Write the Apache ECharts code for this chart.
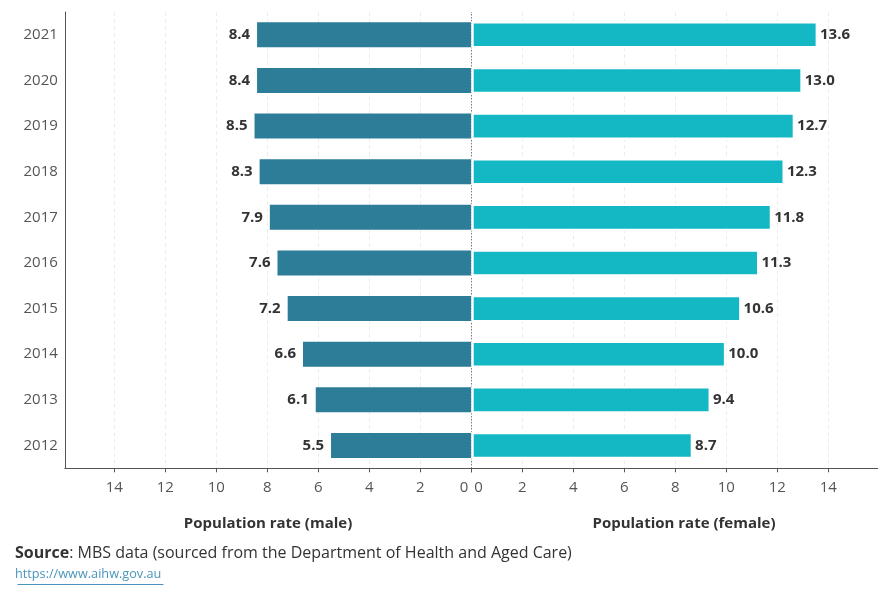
<!DOCTYPE html>
<html>
<head>
<meta charset="utf-8">
<script src="https://cdn.jsdelivr.net/npm/echarts@6/dist/echarts.min.js"></script>
<style>
  html, body { margin: 0; padding: 0; background: #fff; }
  #main { width: 890px; height: 600px; }
</style>
</head>
<body>
<div id="main"></div>
<script>
var years = ["2012", "2013", "2014", "2015", "2016", "2017", "2018", "2019", "2020", "2021"];
var maleRate = [5.5, 6.1, 6.6, 7.2, 7.6, 7.9, 8.3, 8.5, 8.4, 8.4];
var femaleRate = [8.7, 9.4, 10.0, 10.6, 11.3, 11.8, 12.3, 12.7, 13.0, 13.6];
var tickValues = [0, 2, 4, 6, 8, 10, 12, 14];

var font = "Open Sans";
var chart = echarts.init(document.getElementById("main"));

function valueAxis(gridIndex, inverse, name, namePad, align, zeroPad) {
  return {
    type: "value",
    gridIndex: gridIndex,
    inverse: inverse,
    min: 0,
    max: 15.94,
    name: name,
    nameLocation: "middle",
    nameGap: 48,
    nameTextStyle: { fontFamily: font, fontSize: 15, fontWeight: "bold", color: "#333", padding: namePad },
    axisLine: { show: true, lineStyle: { color: "#555", width: 1 } },
    axisTick: { show: true, length: 4, lineStyle: { color: "#555" }, customValues: tickValues },
    axisLabel: {
      fontFamily: font, fontSize: 15, color: "#555", margin: 12,
      customValues: tickValues, alignMinLabel: align,
      formatter: function (v) { return v === 0 ? "{z|0}" : String(v); },
      rich: { z: { fontFamily: font, fontSize: 15, color: "#555", padding: zeroPad } }
    },
    splitLine: { show: true, lineStyle: { color: "#ececec", type: [4, 3], width: 1 } }
  };
}

var option = {
  animation: false,
  grid: [
    { left: 64.8, width: 406.5, top: 12, height: 456.3 },
    { left: 471.3, width: 406.4, top: 12, height: 456.3 }
  ],
  xAxis: [
    valueAxis(0, true, "Population rate (male)", [0, 0, 0, 0], "right", [0, 3, 0, 0]),
    valueAxis(1, false, "Population rate (female)", [0, 0, 0, 19], "left", [0, 0, 0, 3])
  ],
  yAxis: [
    {
      type: "category", gridIndex: 0, data: years,
      axisLine: { show: true, onZero: false, lineStyle: { color: "#555", width: 1 } },
      axisTick: { show: false },
      axisLabel: { fontFamily: font, fontSize: 15, color: "#555", margin: 7 }
    },
    {
      type: "category", gridIndex: 1, data: years,
      axisLine: { show: false },
      axisTick: { show: false },
      axisLabel: { show: false }
    }
  ],
  series: [
    {
      // centre reference line, drawn under the bars
      type: "line", xAxisIndex: 1, yAxisIndex: 1, data: [], silent: true, z: 0,
      markLine: {
        z: 0, silent: true, symbol: ["none", "none"],
        label: { show: false },
        lineStyle: { color: "#444", width: 1, type: [1, 2] },
        data: [{ xAxis: 0 }]
      }
    },
    {
      name: "Male", type: "bar", xAxisIndex: 0, yAxisIndex: 0, z: 5,
      data: maleRate, barWidth: 25,
      itemStyle: { color: "#2d7d99" },
      label: {
        show: true, position: "left", distance: 7,
        fontFamily: font, fontSize: 15, fontWeight: "bold", color: "#333",
        formatter: function (p) { return p.value.toFixed(1); }
      }
    },
    {
      name: "Female", type: "bar", xAxisIndex: 1, yAxisIndex: 1, z: 6,
      data: femaleRate, barWidth: 27.4,
      itemStyle: { color: "#14b8c5", borderColor: "#fff", borderWidth: 2.4 },
      label: {
        show: true, position: "right", distance: 2,
        fontFamily: font, fontSize: 15, fontWeight: "bold", color: "#333",
        formatter: function (p) { return p.value.toFixed(1); }
      }
    }
  ],
  graphic: [
    {
      type: "text", left: 15, top: 545,
      style: {
        text: "{b|Source}: MBS data (sourced from the Department of Health and Aged Care)",
        fontFamily: font, fontSize: 16, fill: "#333",
        rich: { b: { fontFamily: font, fontSize: 16, fontWeight: "bold", fill: "#333" } }
      }
    },
    {
      type: "text", left: 15, top: 568,
      style: { text: "https://www.aihw.gov.au", fontFamily: font, fontSize: 12.7, fill: "#4a95bd" }
    },
    {
      type: "line", left: 15, top: 582,
      shape: { x1: 0, y1: 0, x2: 146, y2: 0 },
      style: { stroke: "#4a95bd", lineWidth: 1 }
    }
  ]
};

chart.setOption(option);
</script>
</body>
</html>
